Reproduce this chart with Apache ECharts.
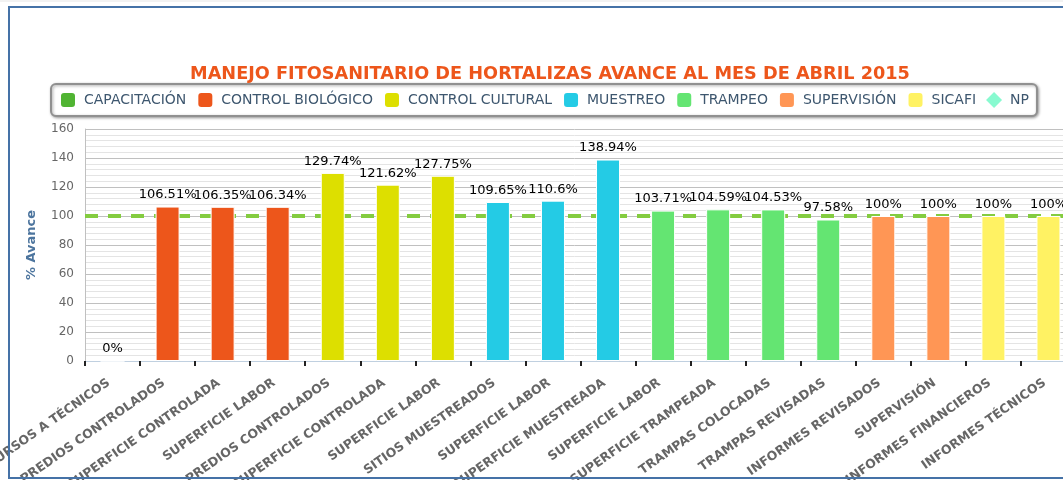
<!DOCTYPE html>
<html>
<head>
<meta charset="utf-8">
<script src="https://cdn.jsdelivr.net/npm/echarts@6/dist/echarts.min.js"></script>
<style>
  html, body { margin: 0; padding: 0; background: #fff; overflow: hidden; }
  #chart { width: 1063px; height: 480px; }
</style>
</head>
<body>
<div id="chart"></div>
<script>
const categories = [
  'CURSOS A TÉCNICOS', 'PREDIOS CONTROLADOS', 'SUPERFICIE CONTROLADA', 'SUPERFICIE LABOR',
  'PREDIOS CONTROLADOS', 'SUPERFICIE CONTROLADA', 'SUPERFICIE LABOR',
  'SITIOS MUESTREADOS', 'SUPERFICIE LABOR', 'SUPERFICIE MUESTREADA',
  'SUPERFICIE LABOR', 'SUPERFICIE TRAMPEADA', 'TRAMPAS COLOCADAS', 'TRAMPAS REVISADAS',
  'INFORMES REVISADOS', 'SUPERVISIÓN', 'INFORMES FINANCIEROS', 'INFORMES TÉCNICOS'
];
const seriesNames = ['CAPACITACIÓN', 'CONTROL BIOLÓGICO', 'CONTROL CULTURAL', 'MUESTREO', 'TRAMPEO', 'SUPERVISIÓN', 'SICAFI'];
const seriesColors = ['#50B432', '#ED561B', '#DDDF00', '#24CBE5', '#64E572', '#FF9655', '#FFF263'];
// index of series for each category
const categoryGroup = [0, 1, 1, 1, 2, 2, 2, 3, 3, 3, 4, 4, 4, 4, 5, 5, 6, 6];
const avance = [0, 106.51, 106.35, 106.34, 129.74, 121.62, 127.75, 109.65, 110.6, 138.94, 103.71, 104.59, 104.53, 97.58, 100, 100, 100, 100];
const npName = 'NP';
const npColor = '#6AF9C4';
const goal = 100;
const yTicks = { min: 0, max: 160, interval: 20 };

const chart = echarts.init(document.getElementById('chart'), null, { renderer: 'canvas' });

const barSeries = seriesNames.map((name, s) => ({
  name: name,
  type: 'bar',
  stack: 'all',
  barWidth: 24,
  z: 2,
  itemStyle: { color: seriesColors[s], borderColor: '#ffffff', borderWidth: 1 },
  label: {
    show: true, position: 'top', distance: 5,
    formatter: p => p.value + '%',
    color: '#000', fontFamily: 'DejaVu Sans', fontSize: 13
  },
  data: avance.map((v, i) => categoryGroup[i] === s ? v : '-')
}));

const npSeries = {
  name: npName,
  type: 'scatter',
  symbol: 'diamond',
  itemStyle: { color: npColor },
  data: [],
  markLine: {
    silent: true,
    z: 1,
    symbol: ['none', 'none'],
    label: { show: false },
    lineStyle: { color: '#84cc40', width: 4, type: [13, 10], opacity: 1 },
    data: [{ yAxis: goal }]
  }
};

chart.setOption({
  animation: false,
  backgroundColor: '#ffffff',
  textStyle: { fontFamily: 'DejaVu Sans' },
  graphic: [{
    type: 'rect',
    shape: { x: 0, y: 0, width: 1063, height: 2 },
    style: { fill: '#f2f2f2' },
    z: 99
  }, {
    type: 'rect',
    shape: { x: 9, y: 7, width: 1080, height: 471 },
    style: { fill: 'none', stroke: '#4572A7', lineWidth: 2 },
    z: 100
  }],
  title: {
    text: 'MANEJO FITOSANITARIO DE HORTALIZAS AVANCE AL MES DE ABRIL 2015',
    left: 545, textAlign: 'center', top: 60,
    textStyle: { color: '#ED561B', fontFamily: 'DejaVu Sans', fontWeight: 'bold', fontSize: 17.7 }
  },
  legend: {
    left: 51, top: 84,
    padding: [7, 8, 7, 8],
    itemGap: 10,
    itemWidth: 16, itemHeight: 16,
    borderColor: '#909090', borderWidth: 2, borderRadius: 5,
    backgroundColor: '#ffffff',
    shadowBlur: 3, shadowColor: 'rgba(0,0,0,0.35)', shadowOffsetX: 1, shadowOffsetY: 1,
    textStyle: { color: '#3E576F', fontFamily: 'DejaVu Sans', fontSize: 14, padding: [0, 0, 0, 3] },
    data: seriesNames.map(n => ({ name: n, icon: 'roundRect' })).concat([{ name: npName, icon: 'diamond' }])
  },
  grid: { left: 85, top: 129, bottom: 119, right: -13, containLabel: false, outerBoundsMode: 'none' },
  xAxis: {
    type: 'category',
    data: categories,
    axisLine: { show: true, lineStyle: { color: '#C0D0E0', width: 1 } },
    axisTick: { show: true, length: 5, lineStyle: { color: '#222', width: 2 } },
    axisLabel: {
      interval: 0, rotate: 35, margin: 26, verticalAlign: 'bottom', align: 'right',
      color: '#666', fontFamily: 'DejaVu Sans', fontWeight: 'bold', fontSize: 12.5
    },
    splitLine: { show: false }
  },
  yAxis: {
    type: 'value',
    min: yTicks.min, max: yTicks.max, interval: yTicks.interval,
    name: '% Avance',
    nameLocation: 'middle', nameRotate: 90, nameGap: 47,
    nameTextStyle: { color: '#4D759E', fontFamily: 'DejaVu Sans', fontWeight: 'bold', fontSize: 13 },
    axisLine: { show: true, lineStyle: { color: '#C0C0C0' } },
    axisTick: { show: false },
    axisLabel: { color: '#666', fontFamily: 'DejaVu Sans', fontSize: 12, margin: 11 },
    splitLine: { show: true, lineStyle: { color: '#C0C0C0', width: 1 } },
    minorTick: { show: false, splitNumber: 5 },
    minorSplitLine: { show: true, lineStyle: { color: '#E4E4E4', width: 1 } }
  },
  series: barSeries.concat([npSeries])
});
</script>
</body>
</html>
